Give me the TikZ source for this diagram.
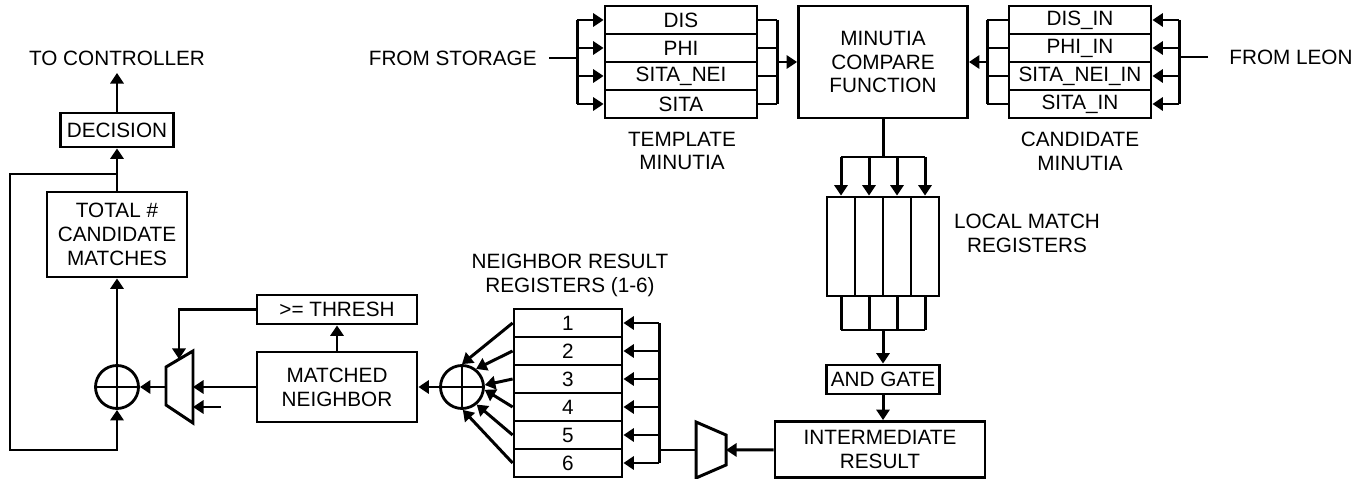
\documentclass[tikz,border=0pt]{standalone}
\usepackage{fontspec}
\setmainfont{Liberation Sans}
\usetikzlibrary{arrows.meta,positioning}
\newcommand{\blkfont}{\fontsize{11.8}{13.6}\selectfont}
\tikzset{
  wire/.style={line width=1.7pt},
  arr/.style={wire,-{Triangle[length=6pt,width=7.5pt]}},
  blk/.style={draw,line width=1.6pt,inner sep=0pt,align=center,font=\blkfont},
  regrow/.style={blk,minimum height=0.56cm},
  lbl/.style={inner sep=0pt,align=center,font=\blkfont},
  adder/.style={draw,circle,line width=1.6pt,minimum size=0.86cm,inner sep=0pt,
    path picture={\draw[line width=1.6pt]
      (path picture bounding box.north) -- (path picture bounding box.south)
      (path picture bounding box.west) -- (path picture bounding box.east);}}
}
\begin{document}
\begin{tikzpicture}[x=0.02cm,y=-0.02cm]
                \useasboundingbox (0,0) rectangle (1366,479);
                \begin{scope}
                \node[lbl] (toctrl) at (117,58) {TO CONTROLLER};
                \coordinate (ctrlin) at (117,73);
                \node[blk,minimum width=2.26cm,minimum height=0.68cm] (decision) at (117,130) {DECISION};
                \node[blk,minimum width=2.8cm,minimum height=1.7cm] (total) at (117,234.5) {TOTAL \#\\CANDIDATE\\MATCHES};
                \node[adder] (sumA) at (117,387) {};
                \coordinate (loopj) at (117,174);
                \coordinate (loopc) at (10,450);
                \end{scope}
                \draw[arr] (decision) -- (ctrlin);
                \draw[arr] (total) -- (decision);
                \draw[arr] (sumA) -- (total);
                \draw[arr] (loopj) -| (loopc) -| (sumA.south);
                \draw[wire] (166,367) -- (193,351) -- (193,423) -- (166,405) -- cycle;
                \coordinate (muxA-out) at (166,387);
                \coordinate (muxA-in) at (193,387);
                \coordinate (muxA-aux) at (193,407);
                \coordinate (muxA-sel) at (179,359);
                \coordinate (spare) at (221,407);
                \draw[arr] (muxA-out) -- (sumA);
                \draw[arr] (spare) -- (muxA-aux);
                \node[blk,minimum width=3.2cm,minimum height=0.58cm] (thresh) at (337,309.5) {>= THRESH};
                \node[blk,minimum width=3.2cm,minimum height=1.4cm] (matched) at (337,387) {MATCHED\\NEIGHBOR};
                \draw[arr] (matched) -- (muxA-in);
                \draw[arr] (matched) -- (thresh);
                \draw[arr] (thresh.west) -| (muxA-sel);
                \node[adder] (sumB) at (462,387) {};
                \draw[arr] (sumB) -- (matched);
                \node[lbl] (nrlabel) at (570,275) {NEIGHBOR RESULT\\REGISTERS (1-6)};
                \foreach \i/\yy in {1/323,2/351,3/379,4/407,5/435,6/463}
                  \node[regrow,minimum width=2.16cm] (nr\i) at (568,\yy) {\i};
                \foreach \i/\a in {1/90,2/52,3/5,4/-7,5/-50,6/-88}
                  \draw[arr] (nr\i.west) -- (sumB.\a);
                \coordinate (nrbus) at (659,450);
                \draw[wire] (nrbus |- nr1.east) -- (nrbus |- nr6.east);
                \foreach \i in {1,...,6}
                  \draw[arr] (nrbus |- nr\i.east) -- (nr\i.east);
                \draw[wire] (696,422) -- (726,435) -- (726,465) -- (696,478) -- cycle;
                \coordinate (muxB-out) at (696,450);
                \coordinate (muxB-in) at (726,450);
                \draw[wire] (muxB-out) -- (nrbus);
                \node[blk,minimum width=4.2cm,minimum height=1.12cm] (inter) at (880,449.5) {INTERMEDIATE\\RESULT};
                \draw[arr] (inter) -- (muxB-in);
                \node[blk,minimum width=2.26cm,minimum height=0.58cm] (andg) at (883,379.5) {AND GATE};
                \draw[arr] (andg.south) -- (andg.south |- inter.north);
                \foreach \i/\xx in {1/841,2/869,3/897,4/925}
                  \node[blk,minimum width=0.56cm,minimum height=1.98cm] (lm\i) at (\xx,246.5) {};
                \node[lbl] (lmlabel) at (1027,233) {LOCAL MATCH\\REGISTERS};
                \coordinate (fanin) at (883,330);
                \foreach \i in {1,...,4}
                  \draw[wire] (lm\i.south) -- (lm\i.south |- fanin);
                \draw[wire] (lm1.south |- fanin) -- (lm4.south |- fanin);
                \draw[arr] (fanin) -- (andg);
                \node[blk,minimum width=3.38cm,minimum height=2.24cm] (compare) at (883,62) {MINUTIA\\COMPARE\\FUNCTION};
                \coordinate (fanout) at (883,157);
                \draw[wire] (compare) -- (fanout);
                \draw[wire] (lm1.north |- fanout) -- (lm4.north |- fanout);
                \foreach \i in {1,...,4}
                  \draw[arr] (lm\i.north |- fanout) -- (lm\i.north);
                \foreach \i/\t/\yy in {1/DIS/20,2/PHI/48,3/SITA\_NEI/76,4/SITA/104}
                  \node[regrow,minimum width=3.04cm] (tm\i) at (681,\yy) {\t};
                \node[lbl] (tmlabel) at (682,151) {TEMPLATE\\MINUTIA};
                \node[lbl,anchor=east] (fromstore) at (537,58) {FROM STORAGE};
                \coordinate (tmbus) at (577,58);
                \coordinate (tmout) at (777,62);
                \draw[wire,shorten <=12*0.02cm] (fromstore.east) -- (tmbus);
                \draw[wire] (tmbus |- tm1.west) -- (tmbus |- tm4.west);
                \draw[wire] (tmout |- tm1.east) -- (tmout |- tm4.east);
                \foreach \i in {1,...,4}{
                  \draw[arr] (tmbus |- tm\i.west) -- (tm\i.west);
                  \draw[wire] (tm\i.east) -- (tmout |- tm\i.east);
                }
                \draw[arr] (tmout) -- (compare);
                \foreach \i/\t/\yy in {1/DIS\_IN/20,2/PHI\_IN/48,3/SITA\_NEI\_IN/76,4/SITA\_IN/104}
                  \node[regrow,minimum width=2.84cm] (cm\i) at (1080,\yy) {\t};
                \node[lbl] (cmlabel) at (1080,151) {CANDIDATE\\MINUTIA};
                \node[lbl,anchor=west] (fromleon) at (1229,57) {FROM LEON};
                \coordinate (cmbus) at (1179,57);
                \coordinate (cmout) at (987,62);
                \draw[wire,shorten <=21*0.02cm] (fromleon.west) -- (cmbus);
                \draw[wire] (cmbus |- cm1.east) -- (cmbus |- cm4.east);
                \draw[wire] (cmout |- cm1.west) -- (cmout |- cm4.west);
                \foreach \i in {1,...,4}{
                  \draw[arr] (cmbus |- cm\i.east) -- (cm\i.east);
                  \draw[wire] (cm\i.west) -- (cmout |- cm\i.west);
                }
                \draw[arr] (cmout) -- (compare);
\end{tikzpicture}
\end{document}
